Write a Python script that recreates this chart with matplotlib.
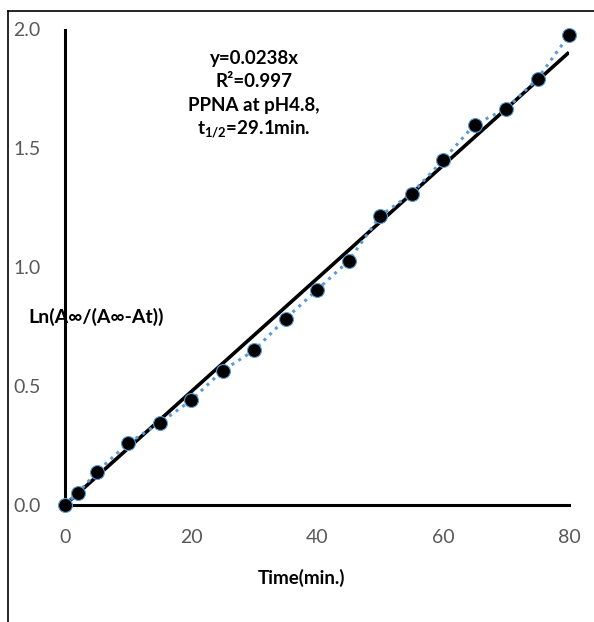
import matplotlib
matplotlib.use('agg')
import matplotlib.pyplot as plt
from matplotlib.lines import Line2D

plt.rcParams['font.family'] = ['Lato', 'DejaVu Sans']
plt.rcParams['mathtext.fontset'] = 'custom'
plt.rcParams['mathtext.rm'] = 'Lato'
plt.rcParams['mathtext.bf'] = 'Lato:bold'
plt.rcParams['mathtext.it'] = 'Lato:italic'

# 數據
time_min = [0, 2, 5, 10, 15, 20, 25, 30, 35, 40, 45, 50, 55, 60, 65, 70, 75, 80]
ln_ratio = [0.0, 0.049, 0.138, 0.26, 0.344, 0.44, 0.565, 0.65, 0.783, 0.905,
            1.026, 1.215, 1.31, 1.45, 1.60, 1.666, 1.793, 1.976]
slope = 0.0238
x_ticks = [0, 20, 40, 60, 80]
y_ticks = [0.0, 0.5, 1.0, 1.5, 2.0]
y_tick_labels = ['0.0', '0.5', '1.0', '1.5', '2.0']

fig = plt.figure(figsize=(5.94, 6.22), dpi=100)
ax = fig.add_axes([65 / 594, 1 - 505 / 622, 504 / 594, 475.5 / 622])

# 趨勢線
fit_x = [time_min[0], time_min[-1]]
fit_y = [slope * v for v in fit_x]
ax.plot(fit_x, fit_y, color='black', lw=2.6, zorder=2, solid_capstyle='butt')

# 數據點 + 點線
ax.plot(time_min, ln_ratio, linestyle=':', color='#5B9BD5', lw=2.2, zorder=3,
        marker='o', markersize=10, markerfacecolor='black',
        markeredgecolor='#5B9BD5', markeredgewidth=0.8, clip_on=False)

ax.set_xlim(0, 80)
ax.set_ylim(0, 2.0)
ax.set_xticks(x_ticks)
ax.set_yticks(y_ticks)
ax.set_yticklabels(y_tick_labels)
ax.tick_params(axis='both', length=0, labelsize=14, colors='#595959')
ax.tick_params(axis='x', pad=17)
ax.tick_params(axis='y', pad=37)
for lab in ax.get_yticklabels():
    lab.set_horizontalalignment('left')

for s in ['top', 'right']:
    ax.spines[s].set_visible(False)
ax.spines['left'].set_linewidth(2.2)
ax.spines['bottom'].set_linewidth(2.2)

# 標註
ann_x = 0.375
ax.text(ann_x, 0.94, 'y=0.0238x', transform=ax.transAxes, ha='center', va='center',
        fontsize=13.5, fontweight='bold')
ax.text(ann_x, 0.8915, 'R²=0.997', transform=ax.transAxes, ha='center', va='center',
        fontsize=13.5, fontweight='bold')
ax.text(ann_x, 0.841, 'PPNA at pH4.8,', transform=ax.transAxes, ha='center', va='center',
        fontsize=13.5, fontweight='bold')
ax.text(ann_x, 0.789, r'$\mathbf{t_{1/2}}$=29.1min.', transform=ax.transAxes, ha='center',
        va='center', fontsize=13.5, fontweight='bold')

fig.text(28 / 594, 1 - 317 / 622, 'Ln(A∞/(A∞-At))', ha='left', va='center',
         fontsize=14, fontweight='bold')
fig.text(301 / 594, 1 - 578 / 622, 'Time(min.)', ha='center', va='center',
         fontsize=13.5, fontweight='bold')

# 外框
fig.add_artist(Line2D([8 / 594, 1], [1 - 11 / 622, 1 - 11 / 622], color='black', lw=1.2,
                      transform=fig.transFigure))
fig.add_artist(Line2D([8 / 594, 8 / 594], [0, 1 - 11 / 622], color='black', lw=1.2,
                      transform=fig.transFigure))

fig.savefig('out.png', dpi=100)
plt.close(fig)
